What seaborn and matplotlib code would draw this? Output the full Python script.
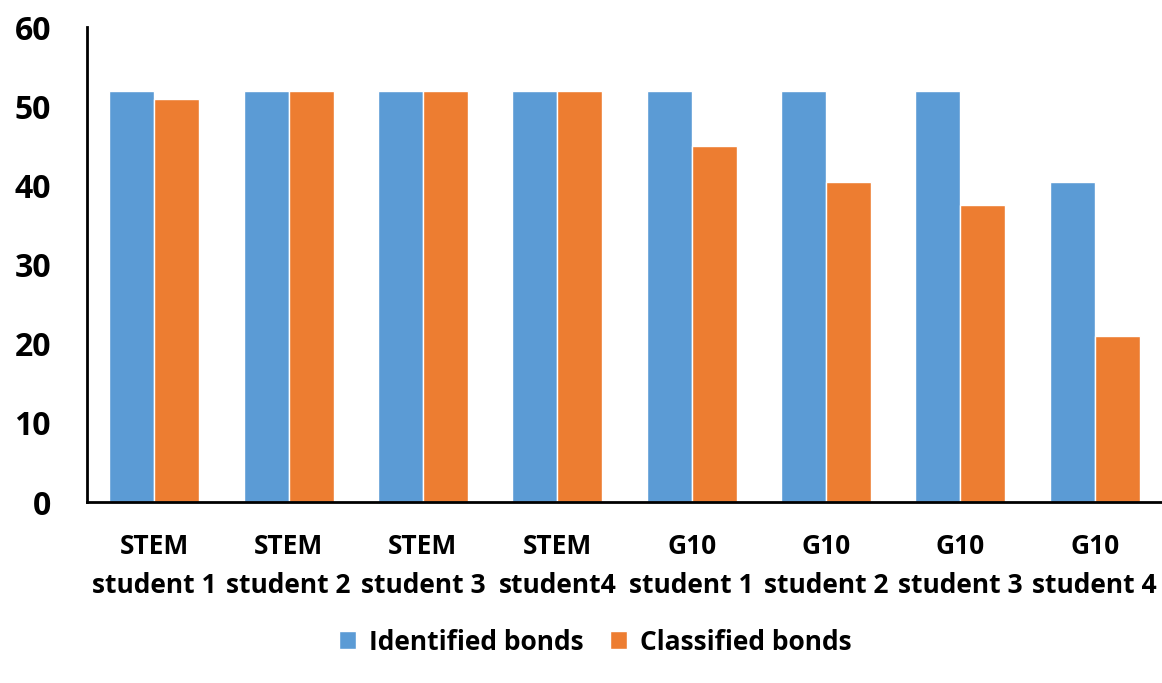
import matplotlib
matplotlib.use("Agg")
import matplotlib.pyplot as plt
import seaborn as sns
import pandas as pd

categories = ["STEM\nstudent 1", "STEM\nstudent 2", "STEM\nstudent 3", "STEM\nstudent4",
              "G10\nstudent 1", "G10\nstudent 2", "G10\nstudent 3", "G10\nstudent 4"]
identified = [52, 52, 52, 52, 52, 52, 52, 40.5]
classified = [51, 52, 52, 52, 45, 40.5, 37.5, 21]
series_names = ["Identified bonds", "Classified bonds"]
colors = ["#5B9BD5", "#ED7D31"]
yticks = [0, 10, 20, 30, 40, 50, 60]

df = pd.DataFrame({
    "category": categories * 2,
    "value": identified + classified,
    "series": [series_names[0]] * len(categories) + [series_names[1]] * len(categories),
})

sns.set_theme(style="white")
plt.rcParams["font.family"] = ["Open Sans", "DejaVu Sans"]
plt.rcParams["text.color"] = "black"

fig = plt.figure(figsize=(11.62, 6.83), dpi=100)
ax = fig.add_axes([0.0749, 0.265, 0.925, 0.695])

sns.barplot(data=df, x="category", y="value", hue="series", order=categories,
            hue_order=series_names, palette=colors, width=0.67, saturation=1,
            edgecolor="white", linewidth=1, ax=ax)

ax.set_xlim(-0.5, 7.5)
ax.set_ylim(0, 60)
ax.set_yticks(yticks)
ax.set_xlabel("")
ax.set_ylabel("")
for s in ["top", "right"]:
    ax.spines[s].set_visible(False)
for s in ["left", "bottom"]:
    ax.spines[s].set_color("black")
    ax.spines[s].set_linewidth(2)
ax.tick_params(axis="both", length=0)
ax.tick_params(axis="y", pad=26)
ax.tick_params(axis="x", pad=22)
for lab in ax.get_yticklabels():
    lab.set_fontsize(23)
    lab.set_fontweight("bold")
    lab.set_color("black")
for lab in ax.get_xticklabels():
    lab.set_fontsize(19)
    lab.set_fontweight("bold")
    lab.set_color("black")
    lab.set_linespacing(1.6)

leg = ax.legend(loc="center", bbox_to_anchor=(0.473, -0.295), ncol=2, frameon=False,
                prop={"size": 19, "weight": "bold"}, handlelength=0.65, handleheight=0.65,
                handletextpad=0.5, columnspacing=1.0, labelcolor="black")

fig.savefig("out.png", dpi=100)
